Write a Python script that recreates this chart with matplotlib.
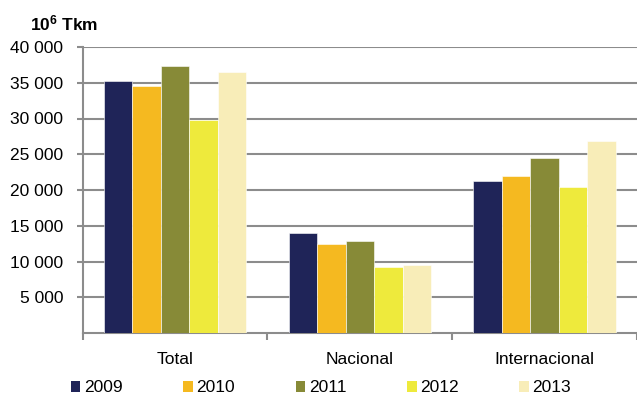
import numpy as np
import matplotlib
matplotlib.use('Agg')
import matplotlib.pyplot as plt
from matplotlib.patches import Patch

plt.rcParams['font.family'] = ['Liberation Sans', 'DejaVu Sans']
plt.rcParams['mathtext.fontset'] = 'custom'
plt.rcParams['mathtext.rm'] = 'Liberation Sans'
plt.rcParams['mathtext.bf'] = 'Liberation Sans:bold'

categories = ['Total', 'Nacional', 'Internacional']
years = ['2009', '2010', '2011', '2012', '2013']
v2009 = [35300, 13950, 21300]
v2010 = [34600, 12450, 22000]
v2011 = [37400, 12850, 24500]
v2012 = [29800, 9250, 20400]
v2013 = [36500, 9550, 26850]
colors = ['#1f2458', '#f5b920', '#878a37', '#eeea3c', '#f8edb8']

series = [v2009, v2010, v2011, v2012, v2013]

fig = plt.figure(figsize=(6.37, 4.01), dpi=100)
ax = fig.add_axes([82.7/637, 1-333/401, 1-82.7/637, (333-47)/401])

x = np.arange(len(categories))
w = 0.154
for i, vals in enumerate(series):
    ax.bar(x + (i-2)*w, vals, w, color=colors[i], edgecolor='white', linewidth=0.4, zorder=3)

ax.set_xlim(-0.5, 2.5)
ax.set_ylim(0, 40000)
ax.set_yticks(np.arange(5000, 40001, 5000))
ax.set_yticklabels(['{:,}'.format(v).replace(',', ' ') for v in range(5000, 40001, 5000)])
ax.yaxis.grid(True, color='#8c8c8c', linewidth=1.5, zorder=0)
ax.set_axisbelow(True)

ax.set_xticks(x)
ax.set_xticklabels(categories)
ax.set_xticks([-0.5, 0.5, 1.5, 2.5], minor=True)
ax.tick_params(axis='x', which='major', length=0, pad=14, labelsize=12.5)
ax.tick_params(axis='x', which='minor', length=5, width=1.5, color='#8c8c8c')
ax.tick_params(axis='y', length=4, width=1.5, color='#8c8c8c', pad=10, labelsize=12.5)

for s in ['top', 'right']:
    ax.spines[s].set_visible(False)
for s in ['left', 'bottom']:
    ax.spines[s].set_color('#8c8c8c')
    ax.spines[s].set_linewidth(1.5)

fig.text(30/637, 1-30/401, r'$\mathbf{10^{6}}$ Tkm', fontsize=12.5, fontweight='bold')

handles = [Patch(facecolor=c, edgecolor='none') for c in colors]
fig.legend(handles, years, loc='center', bbox_to_anchor=(321/637, 1-388/401), ncol=5,
           frameon=False, fontsize=12.5, handlelength=0.55, handleheight=0.55,
           handletextpad=0.2, columnspacing=3.5, borderpad=0, borderaxespad=0)

fig.savefig('out.png', dpi=100)
